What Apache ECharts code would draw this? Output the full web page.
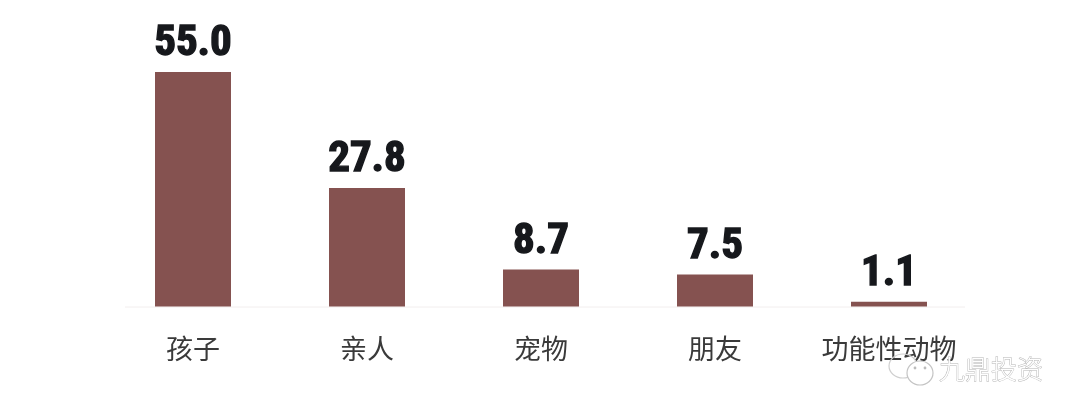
<!DOCTYPE html>
<html>
<head>
<meta charset="utf-8">
<style>html,body{margin:0;padding:0;background:#fff}#c{width:1080px;height:417px}</style>
<script src="https://cdn.jsdelivr.net/npm/echarts@6/dist/echarts.min.js"></script>
</head>
<body>
<div id="c"></div>
<script>
const categories = ['孩子','亲人','宠物','朋友','功能性动物'];
const values = [55.0,27.8,8.7,7.5,1.1];
const labelTexts = ['55.0','27.8','8.7','7.5','1.1'];
const chart = echarts.init(document.getElementById('c'), null, {renderer:'canvas'});
chart.setOption({
  animation:false,
  backgroundColor:'#ffffff',
  grid:{left:106,top:72,width:870,height:234.5,containLabel:false},
  xAxis:{type:'category',data:categories,
    axisLine:{show:false},axisTick:{show:false},
    axisLabel:{interval:0,margin:26,fontSize:27,color:'#3a3a3a',fontFamily:'"Noto Sans CJK SC"',lineHeight:32}},
  yAxis:{type:'value',min:0,max:55,show:false,splitLine:{show:false}},
  series:[{type:'bar',data:values,barWidth:76,
    itemStyle:{color:'#855250'},
    label:{show:true,position:'top',distance:6,
      formatter:p=>labelTexts[p.dataIndex],
      fontFamily:'"Roboto Condensed","Open Sans Condensed","Roboto"',fontWeight:'bold',fontStyle:'condensed',fontSize:43,
      color:'#16181c',textBorderColor:'#16181c',textBorderWidth:1.4}}],
  graphic:[
    {type:'line',z:0,shape:{x1:125,y1:307,x2:965,y2:307},style:{stroke:'#f2eeee',lineWidth:1}},
    {type:'ellipse',shape:{cx:903,cy:366,rx:14,ry:12},style:{fill:'none',stroke:'#cfcfcf',lineWidth:1.2},z:5},
    {type:'ellipse',shape:{cx:920,cy:373,rx:13,ry:12},style:{fill:'#ffffff',stroke:'#c4c4c4',lineWidth:1.2},z:6},
    {type:'circle',shape:{cx:915,cy:368,r:1.4},style:{fill:'#bbbbbb'},z:7},
    {type:'circle',shape:{cx:925,cy:368,r:1.4},style:{fill:'#bbbbbb'},z:7},
    {type:'text',x:939,y:356,z:6,style:{text:'九鼎投资',font:'300 26px "Noto Sans CJK SC"',fill:'#ffffff',stroke:'#b5b5b5',lineWidth:0.9}}
  ]
});
</script>
</body>
</html>
